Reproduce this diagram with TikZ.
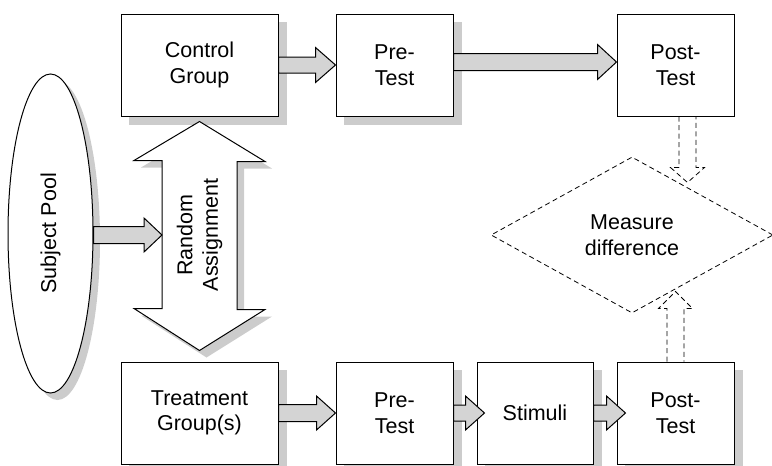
\documentclass[tikz,border=0pt]{standalone}
\usepackage{fontspec}
\setmainfont{Liberation Sans}
\usetikzlibrary{shapes.geometric,calc,backgrounds}
\definecolor{shadowgray}{gray}{0.8}
\definecolor{arrowgray}{gray}{0.83}
% block arrow: #1 start, #2 tip, #3 half shaft, #4 half head, #5 head length
\newcommand\harrow[5]{%
  \draw[blk] ($(#1|-#2)+(0,-#3)$) -- ($(#2)+(-#5,-#3)$) -- ($(#2)+(-#5,-#4)$) -- (#2)
    -- ($(#2)+(-#5,#4)$) -- ($(#2)+(-#5,#3)$) -- ($(#1|-#2)+(0,#3)$) -- cycle;}
\begin{document}
\begin{tikzpicture}[x=1pt,y=-1pt,
  txt/.style={font=\fontsize{21.5pt}{25.5pt}\selectfont, align=center},
  box/.style={txt, draw, line width=1pt, fill=white, minimum height=102pt, inner sep=0pt},
  blk/.style={draw, line width=1pt, fill=arrowgray, line join=miter},
  dsh/.style={draw, line width=0.8pt, dash pattern=on 5pt off 3.5pt}]
\useasboundingbox (0,0) rectangle (772,466);

% boxes
\node[box, minimum width=157pt] (ctrl) at (199.5,65) {Control\\Group};
\node[box, minimum width=117pt] (pre1) at (394.5,65) {Pre-\\Test};
\node[box, minimum width=117pt] (post1) at (675.5,65) {Post-\\Test};
\node[box, minimum width=157pt] (treat) at (199.5,413) {Treatment\\Group(s)};
\node[box, minimum width=117pt] (pre2) at (394.5,413) {Pre-\\Test};
\node[box, minimum width=116pt] (stim) at (535,413) {Stimuli};
\node[box, minimum width=117pt] (post2) at (675.5,413) {Post-\\Test};

% subject pool
\node[draw, line width=1pt, fill=white, ellipse, minimum width=85pt, minimum height=319pt, inner sep=0pt] (subj) at (50.5,233.5) {};
\node[txt, rotate=90] (subjt) at (subj.center) {Subject Pool};

% measure difference
\node[diamond, dsh, txt, minimum width=282pt, minimum height=156pt, inner sep=0pt] (meas) at (632,235) {Measure\\difference};

% random assignment double arrow
\coordinate (ra-top) at ($(ctrl.south)+(0,5)$);
\coordinate (ra-bot) at ($(treat.north)+(0,-11)$);
\draw[line width=1pt, fill=white, line join=miter] (ra-top) -- ++(65.5,40) -- ++(-28,0) -- ++(0,148) -- ++(28,0) -- (ra-bot)
  -- ++(-65.5,-42) -- ++(28,0) -- ++(0,-148) -- ++(-28,0) -- cycle;
\node[txt, rotate=90] (ra) at (199.5,235) {Random\\Assignment};

% shadows
\begin{scope}[on background layer]
  \foreach \n in {ctrl,pre1,treat,pre2,stim,post2}
    \fill[shadowgray] ($(\n.north west)+(8,8)$) rectangle ($(\n.south east)+(8,8)$);
  \fill[shadowgray] ($(subj.center)+(7,7)$) ellipse [x radius=42.5, y radius=159.5];
  \fill[shadowgray] ($(ra-top)+(7,7)$) -- ++(65.5,40) -- ++(-28,0) -- ++(0,148) -- ++(28,0) -- ($(ra-bot)+(7,7)$)
    -- ++(-65.5,-42) -- ++(28,0) -- ++(0,-148) -- ++(-28,0) -- cycle;
\end{scope}

% block arrows
\harrow{ctrl.east}{pre1.west}{8}{17.5}{20}
\coordinate (t2) at ($(post1.west)+(0,-3)$);
\harrow{pre1.east}{t2}{8.5}{17.5}{19}
\coordinate (t3) at ($(ra.center)+(-37.5,0)$);
\harrow{subj.east}{t3}{8.5}{17}{18}
\harrow{treat.east}{pre2.west}{8.5}{17}{19}
\coordinate (t5) at ($(stim.west)+(8,0)$);
\harrow{pre2.east}{t5}{8}{17}{19}
\coordinate (t6) at ($(post2.west)+(9,0)$);
\harrow{stim.east}{t6}{8}{17}{19}

% dashed arrows
\coordinate (d1) at ($(post1.south)+(12,0)$);
\draw[dsh] ($(d1)+(-8.5,0)$) -- ++(0,51) -- ++(-8.5,0) -- ++(17,15) -- ++(17,-15) -- ++(-8.5,0) -- ++(0,-51);
\coordinate (d2) at (post2.north);
\draw[dsh] ($(d2)+(-8.5,0)$) -- ++(0,-53) -- ++(-8.5,0) -- ++(17,-17) -- ++(17,17) -- ++(-8.5,0) -- ++(0,53);
\end{tikzpicture}
\end{document}
